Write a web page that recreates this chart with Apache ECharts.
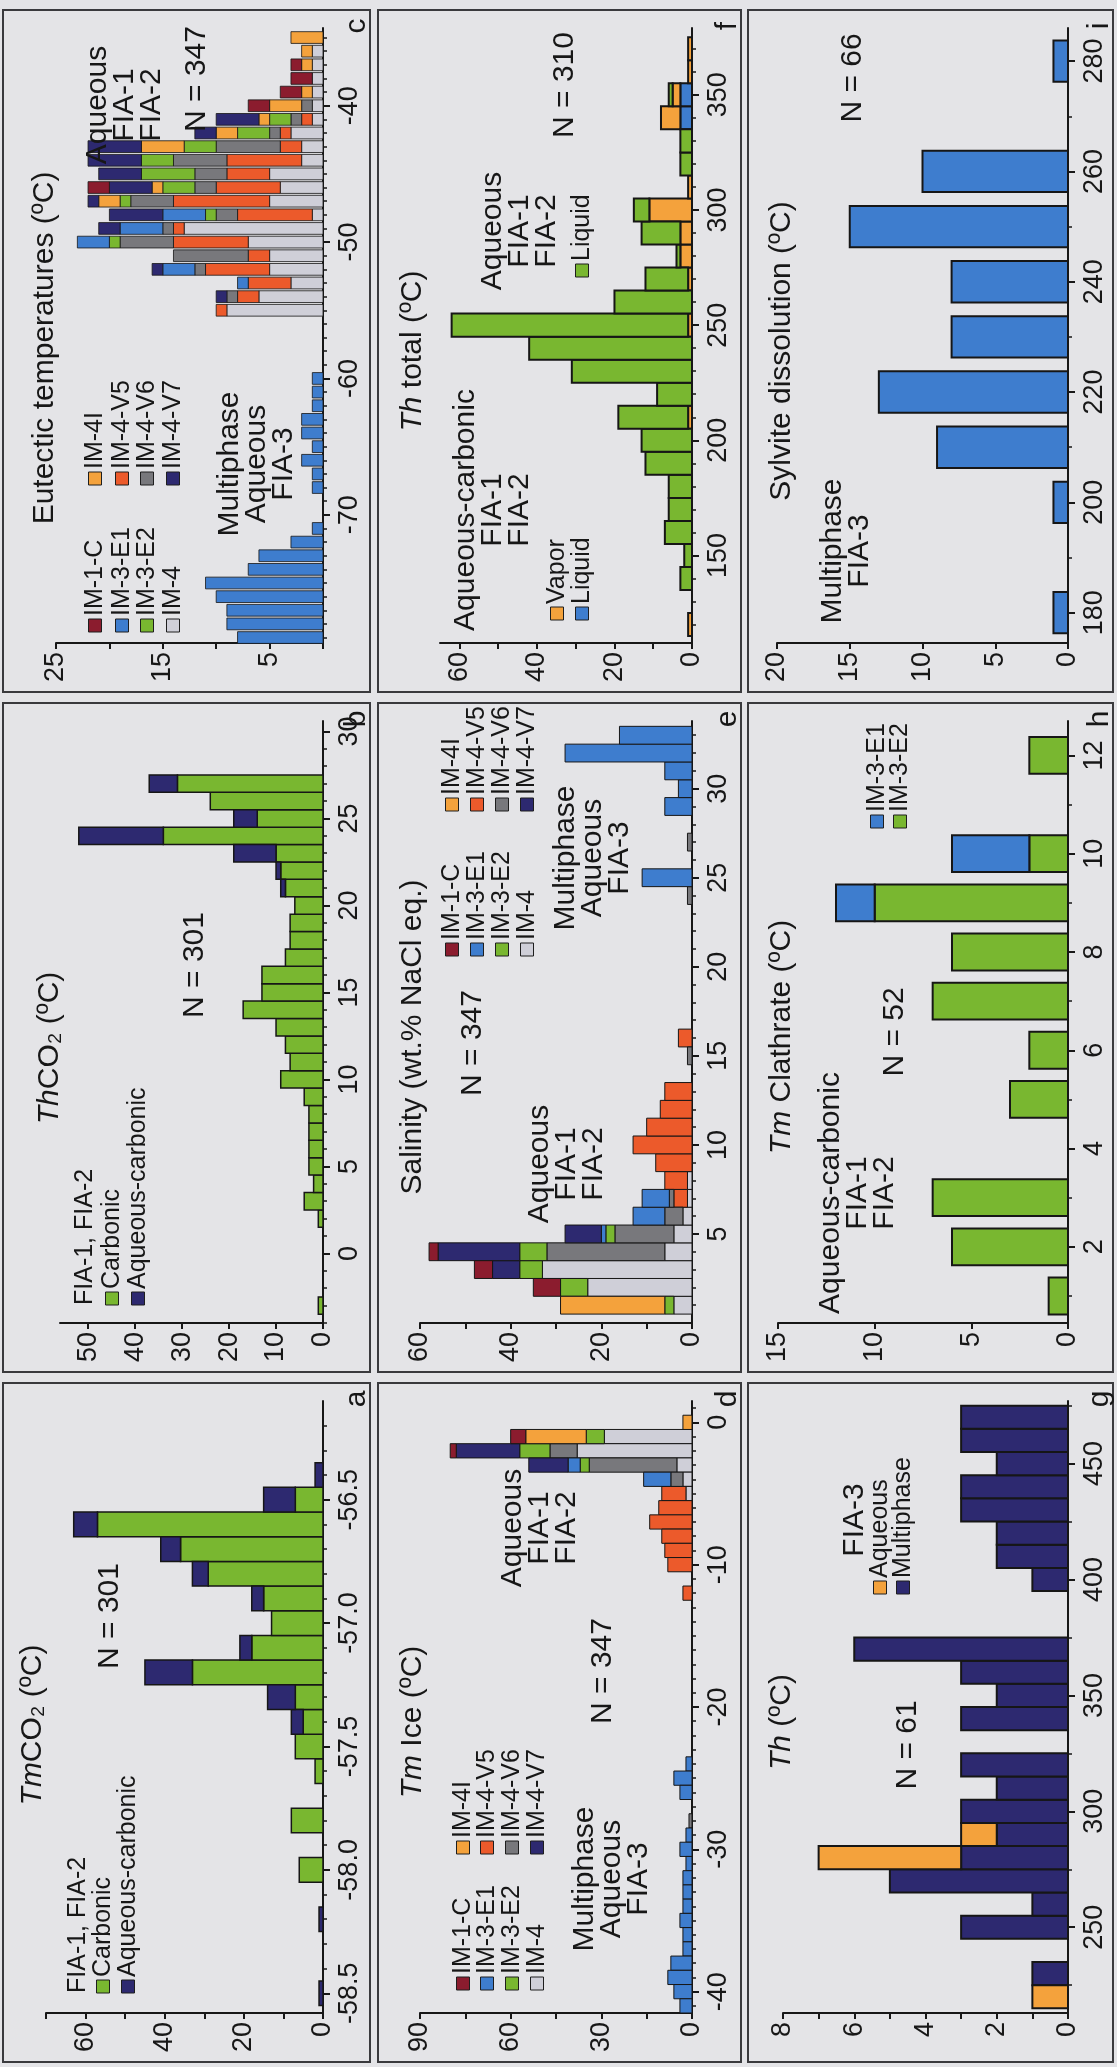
<!DOCTYPE html>
<html>
<head>
<meta charset="utf-8">
<title>Microthermometric data</title>
<script src="https://cdn.jsdelivr.net/npm/echarts@6.0.0/dist/echarts.min.js"></script>
<style>
  html, body { margin: 0; padding: 0; background: #e4e4e7; }
  #chart { width: 1117px; height: 2067px; }
</style>
</head>
<body>
<div id="chart"></div>
<script>
// ---- a: TmCO2 ----
var aBins = [-58.5, -58.2, -58.0, -57.8, -57.6, -57.5, -57.4, -57.3, -57.2, -57.1, -57.0, -56.9, -56.8, -56.7, -56.6, -56.5, -56.4];
var aCarbonic = [0, 0, 6, 8, 2, 7, 5, 7, 33, 18, 13, 15, 29, 36, 57, 7, 0];
var aAqueousCarbonic = [1, 1, 0, 0, 0, 0, 3, 7, 12, 3, 0, 3, 4, 5, 6, 8, 2];
var aCountLabels = [0, 20, 40, 60];
var aTempLabels = [-58.5, -58.0, -57.5, -57.0, -56.5];

// ---- b: ThCO2 ----
var bBins = [-3, 2, 3, 4, 5, 6, 7, 8, 9, 10, 11, 12, 13, 14, 15, 16, 17, 18, 19, 20, 21, 22, 23, 24, 25, 26, 27];
var bCarbonic = [1, 1, 4, 2, 3, 3, 3, 3, 4, 9, 7, 8, 10, 17, 13, 13, 8, 7, 7, 6, 8, 9, 10, 34, 14, 24, 31];
var bAqueousCarbonic = [0, 0, 0, 0, 0, 0, 0, 0, 0, 0, 0, 0, 0, 0, 0, 0, 0, 0, 0, 0, 1, 1, 9, 18, 5, 0, 6];
var bCountLabels = [0, 10, 20, 30, 40, 50];
var bTempLabels = [0, 5, 10, 15, 20, 25, 30];

// ---- c: eutectic temperatures ----
var cBins = [-79, -78, -77, -76, -75, -74, -73, -72, -71, -68, -67, -66, -65, -64, -63, -62, -61, -60,
  -55, -54, -53, -52, -51, -50, -49, -48, -47, -46, -45, -44, -43, -42, -41, -40, -39, -38, -37, -36, -35];
var cIM4   = [0,0,0,0,0,0,0,0,0, 0,0,0,0,0,0,0,0,0, 9,6,3,5,5,7,13,1,5,4,5,2,2,3,1,1,1,1,1,1,0];
var cIM4V5 = [0,0,0,0,0,0,0,0,0, 0,0,0,0,0,0,0,0,0, 1,2,4,6,2,7,1,7,9,6,4,7,2,1,1,0,0,0,0,0,0];
var cIM4V6 = [0,0,0,0,0,0,0,0,0, 0,0,0,0,0,0,0,0,0, 0,1,0,1,7,5,1,2,4,2,3,5,6,1,1,1,0,0,0,0,0];
var cIM3E2 = [0,0,0,0,0,0,0,0,0, 0,0,0,0,0,0,0,0,0, 0,0,0,0,0,1,0,1,1,3,5,3,3,3,2,0,0,0,0,0,0];
var cIM3E1 = [8,9,9,10,11,7,6,3,1, 1,1,2,1,2,2,1,1,1, 0,0,1,3,0,3,4,4,0,0,0,0,0,0,0,0,0,0,0,0,0];
var cIM4I  = [0,0,0,0,0,0,0,0,0, 0,0,0,0,0,0,0,0,0, 0,0,0,0,0,0,0,0,2,1,0,0,4,2,1,3,1,0,1,1,3];
var cIM4V7 = [0,0,0,0,0,0,0,0,0, 0,0,0,0,0,0,0,0,0, 0,1,0,1,0,0,2,5,1,4,4,5,5,2,4,0,0,0,0,0,0];
var cIM1C  = [0,0,0,0,0,0,0,0,0, 0,0,0,0,0,0,0,0,0, 0,0,0,0,0,0,0,0,0,2,0,0,0,0,0,2,2,2,1,0,0];
var cCountLabels = [5, 15, 25];
var cTempLabels = [-70, -60, -50, -40];

// ---- d: Tm ice ----
var dBins = [0, -1, -2, -3, -4, -5, -6, -7, -8, -9, -10, -12, -24, -25, -26, -28, -29, -30, -31, -32, -33, -34, -35, -36, -37, -38, -39, -40, -41];
var dIM4   = [0,29,38,5,3,2,0,0,0,0,0,0, 0,0,0,0,0,0,0,0,0,0,0,0,0,0,0,0,0];
var dIM4V5 = [0,0,0,0,0,8,11,14,10,9,8,3, 0,0,0,0,0,0,0,0,0,0,0,0,0,0,0,0,0];
var dIM4V6 = [0,0,9,29,4,0,0,0,0,0,0,0, 0,0,0,1,0,0,0,0,0,0,0,0,0,0,0,0,0];
var dIM3E2 = [0,6,10,3,0,0,0,0,0,0,0,0, 0,0,0,0,0,0,0,0,0,0,0,0,0,0,0,0,0];
var dIM3E1 = [0,0,0,4,9,0,0,0,0,0,0,0, 2,6,4,0,2,4,2,3,3,3,4,3,3,7,8,6,4];
var dIM4I  = [3,20,0,0,0,0,0,0,0,0,0,0, 0,0,0,0,0,0,0,0,0,0,0,0,0,0,0,0,0];
var dIM4V7 = [0,0,21,13,0,0,0,0,0,0,0,0, 0,0,0,0,0,0,0,0,0,0,0,0,0,0,0,0,0];
var dIM1C  = [0,5,2,0,0,0,0,0,0,0,0,0, 0,0,0,0,0,0,0,0,0,0,0,0,0,0,0,0,0];
var dCountLabels = [0, 30, 60, 90];
var dTempLabels = [-40, -30, -20, -10, 0];

// ---- e: salinity ----
var eBins = [1, 2, 3, 4, 5, 6, 7, 8, 9, 10, 11, 12, 13, 15, 16, 24, 25, 27, 29, 30, 31, 32, 33];
var eIM4   = [4,23,33,6,4,2,1,1,0,0,0,0,0,0,0,0,0,0,0,0,0,0,0];
var eIM4V5 = [0,0,0,0,0,0,3,5,8,13,10,7,6,0,3,0,0,0,0,0,0,0,0];
var eIM4V6 = [0,0,0,26,13,4,1,0,0,0,0,0,0,1,0,1,0,1,0,0,0,0,0];
var eIM3E2 = [2,6,5,6,2,0,0,0,0,0,0,0,0,0,0,0,0,0,0,0,0,0,0];
var eIM3E1 = [0,0,0,0,1,7,6,0,0,0,0,0,0,0,0,0,11,0,6,3,6,28,16];
var eIM4I  = [23,0,0,0,0,0,0,0,0,0,0,0,0,0,0,0,0,0,0,0,0,0,0];
var eIM4V7 = [0,0,6,18,8,0,0,0,0,0,0,0,0,0,0,0,0,0,0,0,0,0,0];
var eIM1C  = [0,6,4,2,0,0,0,0,0,0,0,0,0,0,0,0,0,0,0,0,0,0,0];
var eCountLabels = [0, 20, 40, 60];
var eTempLabels = [5, 10, 15, 20, 25, 30];

// ---- f: Th total ----
var fBins = [120, 140, 150, 160, 170, 180, 190, 200, 210, 220, 230, 240, 250, 260, 270, 280, 290, 300, 310, 320, 330, 340, 350, 360, 370];
var fLiquidAqCarb = [0,0,0,0,0,0,0,0,0,0,0,0,0,0,0,0,0,0,0,0,0,3,3,0,0];
var fVapor        = [1,0,0,0,0,0,0,0,1,0,0,0,1,0,1,3,3,11,1,0,0,5,2,1,1];
var fLiquidAq     = [0,3,2,7,6,6,12,13,18,9,31,42,61,20,11,1,10,4,0,3,3,0,1,0,0];
var fCountLabels = [0, 20, 40, 60];
var fTempLabels = [150, 200, 250, 300, 350];

// ---- g: Th FIA-3 ----
var gBins = [220, 230, 250, 260, 270, 280, 290, 300, 310, 320, 340, 350, 360, 370, 400, 410, 420, 430, 440, 450, 460, 470];
var gMultiphase = [0,1,3,1,5,3,2,3,2,3,3,2,3,6,1,2,2,3,3,2,3,3];
var gAqueous    = [1,0,0,0,0,4,1,0,0,0,0,0,0,0,0,0,0,0,0,0,0,0];
var gCountLabels = [0, 2, 4, 6, 8];
var gTempLabels = [250, 300, 350, 400, 450];

// ---- h: Tm clathrate ----
var hBins = [1, 2, 3, 5, 6, 7, 8, 9, 10, 12];
var hIM3E2 = [1, 6, 7, 3, 2, 7, 6, 10, 2, 2];
var hIM3E1 = [0, 0, 0, 0, 0, 0, 0, 2, 4, 0];
var hCountLabels = [0, 5, 10, 15];
var hTempLabels = [2, 4, 6, 8, 10, 12];

// ---- i: sylvite dissolution ----
var iBins = [180, 200, 210, 220, 230, 240, 250, 260, 280];
var iMultiphase = [1, 1, 9, 13, 8, 8, 15, 10, 1];
var iCountLabels = [0, 5, 10, 15, 20];
var iTempLabels = [180, 200, 220, 240, 260, 280];

var FONT = '"Liberation Sans", Arial, Helvetica, sans-serif';
var INK = '#171717';
var COL = {
    lgray: '#cfcfd8', red: '#ec5a2b', gray: '#78787c', green: '#79b730',
    blue: '#3e7dce', orange: '#f4a23c', navy: '#2d2970', dred: '#8b1c2e'
};

function range(a, b, s) {
    var r = [];
    for (var v = a; v <= b + s / 1000; v += s) r.push(Math.round(v * 1000) / 1000);
    return r;
}

var grids = [], xAxes = [], yAxes = [], series = [], graphics = [];

function barRenderer(width, lw) {
    return function (params, api) {
        var c = api.value(0), lo = api.value(1), hi = api.value(2);
        if (hi <= lo) return null;
        var p0 = api.coord([lo, c - width / 2]);
        var p1 = api.coord([hi, c + width / 2]);
        return {
            type: 'rect',
            shape: {
                x: Math.min(p0[0], p1[0]), y: Math.min(p0[1], p1[1]),
                width: Math.abs(p1[0] - p0[0]), height: Math.abs(p1[1] - p0[1])
            },
            style: { fill: api.visual('color'), stroke: '#161616', lineWidth: lw }
        };
    };
}

function addPanel(p) {
    var gi = grids.length;
    var g = p.grid;
    grids.push({ left: g[0], top: g[1], width: g[2] - g[0], height: g[3] - g[1], containLabel: false, outerBoundsMode: 'none' });
    xAxes.push({
        type: 'value', gridIndex: gi, position: 'bottom', inverse: true, min: 0, max: p.countMax,
        axisLine: { show: true, onZero: false, lineStyle: { color: INK, width: 2 } },
        axisTick: { show: true, length: 6, customValues: p.countTicks, lineStyle: { color: INK, width: 2 } },
        axisLabel: { show: true, rotate: 90, customValues: p.countLabels, margin: 9, fontSize: 27, fontFamily: FONT, color: INK },
        splitLine: { show: false }
    });
    yAxes.push({
        type: 'value', gridIndex: gi, position: 'right', min: p.tempMin, max: p.tempMax,
        axisLine: { show: true, onZero: false, lineStyle: { color: INK, width: 2 } },
        axisTick: { show: true, length: 7, customValues: p.tempLabels, lineStyle: { color: INK, width: 2 } },
        axisLabel: {
            show: true, rotate: 90, customValues: p.tempLabels, margin: 13, fontSize: 27, fontFamily: FONT, color: INK,
            formatter: function (v) { return Number(v).toFixed(p.digits || 0); }
        },
        splitLine: { show: false }
    }, {
        type: 'value', gridIndex: gi, position: 'right', min: p.tempMin, max: p.tempMax,
        axisLine: { show: false, onZero: false },
        axisTick: { show: true, length: 4, customValues: p.tempMinor, lineStyle: { color: INK, width: 1.5 } },
        axisLabel: { show: false },
        splitLine: { show: false }
    });

    var base = p.bins.map(function () { return 0; });
    p.layers.forEach(function (L) {
        var data = [];
        p.bins.forEach(function (b, i) {
            var v = L[1][i];
            if (v > 0) data.push([b, base[i], base[i] + v]);
            base[i] += v;
        });
        series.push({
            type: 'custom', name: L[0], coordinateSystem: 'cartesian2d',
            xAxisIndex: gi, yAxisIndex: gi * 2, silent: true, z: 3,
            itemStyle: { color: L[2] }, encode: { x: [1, 2], y: 0 },
            renderItem: barRenderer(p.width, p.lw), data: data
        });
    });

    var f = p.frame;
    graphics.push({
        type: 'rect', silent: true, z: 1,
        shape: { x: f[0], y: f[1], width: f[2] - f[0], height: f[3] - f[1] },
        style: { fill: 'none', stroke: '#3a3a3d', lineWidth: 2 }
    });
    graphics.push(vtext(f[2] - 13, f[1] + 16, p.letter, 30));
}

function vtext(x, y, text, size) {
    var st = {
        text: text, fontSize: size, fontFamily: FONT, fill: INK,
        textAlign: 'center', textVerticalAlign: 'middle', align: 'center', verticalAlign: 'middle',
        lineHeight: Math.round(size * 0.9)
    };
    if (text.indexOf('{') >= 0) {
        st.rich = { it: { fontStyle: 'italic', fontSize: size, fontFamily: FONT, fill: INK } };
    }
    return { type: 'text', x: x, y: y, rotation: Math.PI / 2, silent: true, z: 100, style: st };
}

// legend entry: square at the bottom, label reading upwards
function legendItem(x, yBottom, color, label) {
    var s = 13, tx = 0, kids = [];
    if (color) {
        kids.push({ type: 'rect', z: 100, shape: { x: 0, y: -s / 2, width: s, height: s }, style: { fill: color, stroke: '#1e1e1e', lineWidth: 1 } });
        tx = s + 3;
    }
    kids.push({
        type: 'text', z: 100, x: tx, y: 0,
        style: { text: label, fontSize: 25, fontFamily: FONT, fill: INK, textAlign: 'left', textVerticalAlign: 'middle', align: 'left', verticalAlign: 'middle' }
    });
    return { type: 'group', x: x, y: yBottom, rotation: Math.PI / 2, silent: true, z: 100, children: kids };
}

function eightLayers(lg, v5, v6, e2, e1, i4, v7, c1) {
    return [['IM-4', lg, COL.lgray], ['IM-4-V5', v5, COL.red], ['IM-4-V6', v6, COL.gray], ['IM-3-E2', e2, COL.green],
        ['IM-3-E1', e1, COL.blue], ['IM-4I', i4, COL.orange], ['IM-4-V7', v7, COL.navy], ['IM-1-C', c1, COL.dred]];
}

function eightLegend(xs, yCol1, yCol2) {
    graphics.push(legendItem(xs[0], yCol1, COL.dred, 'IM-1-C'));
    graphics.push(legendItem(xs[1], yCol1, COL.blue, 'IM-3-E1'));
    graphics.push(legendItem(xs[2], yCol1, COL.green, 'IM-3-E2'));
    graphics.push(legendItem(xs[3], yCol1, COL.lgray, 'IM-4'));
    graphics.push(legendItem(xs[0], yCol2, COL.orange, 'IM-4I'));
    graphics.push(legendItem(xs[1], yCol2, COL.red, 'IM-4-V5'));
    graphics.push(legendItem(xs[2], yCol2, COL.gray, 'IM-4-V6'));
    graphics.push(legendItem(xs[3], yCol2, COL.navy, 'IM-4-V7'));
}

// a
addPanel({
    letter: 'a', frame: [3, 1383, 370, 2062], grid: [46, 1401, 323, 2013],
    countMax: 70, countTicks: range(0, 70, 10), countLabels: aCountLabels,
    tempMin: -58.58, tempMax: -56.1, tempLabels: aTempLabels, tempMinor: range(-58.5, -56.2, 0.1), digits: 1,
    bins: aBins, width: 0.1, lw: 1.5,
    layers: [['Carbonic', aCarbonic, COL.green], ['Aqueous-carbonic', aAqueousCarbonic, COL.navy]]
});
graphics.push(vtext(33, 1725, '{it|Tm}CO₂ (ºC)', 30));
graphics.push(vtext(110, 1616, 'N = 301', 30));
graphics.push(legendItem(78, 1993, null, 'FIA-1, FIA-2'));
graphics.push(legendItem(103, 1993, COL.green, 'Carbonic'));
graphics.push(legendItem(128, 1993, COL.navy, 'Aqueous-carbonic'));

// b
addPanel({
    letter: 'b', frame: [3, 703, 370, 1372], grid: [60, 721, 323, 1323],
    countMax: 56, countTicks: range(0, 50, 10), countLabels: bCountLabels,
    tempMin: -4, tempMax: 30.6, tempLabels: bTempLabels, tempMinor: range(-4, 30, 1),
    bins: bBins, width: 1, lw: 1.5,
    layers: [['Carbonic', bCarbonic, COL.green], ['Aqueous-carbonic', bAqueousCarbonic, COL.navy]]
});
graphics.push(vtext(50, 1048, '{it|Th}CO₂ (ºC)', 30));
graphics.push(vtext(195, 965, 'N = 301', 30));
graphics.push(legendItem(85, 1305, null, 'FIA-1, FIA-2'));
graphics.push(legendItem(112, 1305, COL.green, 'Carbonic'));
graphics.push(legendItem(138, 1305, COL.navy, 'Aqueous-carbonic'));

// c
addPanel({
    letter: 'c', frame: [3, 10, 370, 692], grid: [56, 28, 323, 643],
    countMax: 25, countTicks: range(0, 25, 5), countLabels: cCountLabels,
    tempMin: -79.4, tempMax: -34.3, tempLabels: cTempLabels, tempMinor: range(-79, -35, 1),
    bins: cBins, width: 0.86, lw: 0.8,
    layers: eightLayers(cIM4, cIM4V5, cIM4V6, cIM3E2, cIM3E1, cIM4I, cIM4V7, cIM1C)
});
graphics.push(vtext(45, 348, 'Eutectic temperatures (ºC)', 30));
graphics.push(vtext(197, 79, 'N = 347', 30));
graphics.push(vtext(125, 105, 'Aqueous\nFIA-1\nFIA-2', 30));
graphics.push(vtext(257, 464, 'Multiphase\nAqueous\nFIA-3', 30));
eightLegend([95, 122, 147, 173], 632, 485);

// d
addPanel({
    letter: 'd', frame: [378, 1383, 741, 2062], grid: [420, 1401, 692, 2013],
    countMax: 90, countTicks: range(0, 90, 15), countLabels: dCountLabels,
    tempMin: -41.5, tempMax: 1.5, tempLabels: dTempLabels, tempMinor: range(-41, 1, 1),
    bins: dBins, width: 1, lw: 1,
    layers: eightLayers(dIM4, dIM4V5, dIM4V6, dIM3E2, dIM3E1, dIM4I, dIM4V7, dIM1C)
});
graphics.push(vtext(413, 1722, '{it|Tm} Ice (ºC)', 30));
graphics.push(vtext(540, 1528, 'Aqueous\nFIA-1\nFIA-2', 30));
graphics.push(vtext(603, 1671, 'N = 347', 30));
graphics.push(vtext(612, 1879, 'Multiphase\nAqueous\nFIA-3', 30));
eightLegend([463, 487, 512, 537], 1990, 1854);

// e
addPanel({
    letter: 'e', frame: [378, 703, 741, 1372], grid: [420, 721, 692, 1323],
    countMax: 60, countTicks: range(0, 60, 10), countLabels: eCountLabels,
    tempMin: 0, tempMax: 33.8, tempLabels: eTempLabels, tempMinor: range(1, 33, 1),
    bins: eBins, width: 1, lw: 1,
    layers: eightLayers(eIM4, eIM4V5, eIM4V6, eIM3E2, eIM3E1, eIM4I, eIM4V7, eIM1C)
});
graphics.push(vtext(413, 1037, 'Salinity (wt.% NaCl eq.)', 30));
graphics.push(vtext(473, 1043, 'N = 347', 30));
graphics.push(vtext(567, 1164, 'Aqueous\nFIA-1\nFIA-2', 30));
graphics.push(vtext(593, 858, 'Multiphase\nAqueous\nFIA-3', 30));
eightLegend([452, 477, 502, 527], 956, 811);

// f
addPanel({
    letter: 'f', frame: [378, 10, 741, 692], grid: [440, 28, 692, 643],
    countMax: 65, countTicks: range(0, 60, 10), countLabels: fCountLabels,
    tempMin: 112, tempMax: 379, tempLabels: fTempLabels, tempMinor: range(120, 370, 10),
    bins: fBins, width: 10, lw: 2,
    layers: [['Liquid (aqueous-carbonic)', fLiquidAqCarb, COL.blue], ['Vapor', fVapor, COL.orange], ['Liquid (aqueous)', fLiquidAq, COL.green]]
});
graphics.push(vtext(413, 351, '{it|Th} total (ºC)', 30));
graphics.push(vtext(565, 85, 'N = 310', 30));
graphics.push(vtext(520, 231, 'Aqueous\nFIA-1\nFIA-2', 30));
graphics.push(vtext(493, 510, 'Aqueous-carbonic\nFIA-1\nFIA-2', 30));
graphics.push(legendItem(557, 620, COL.orange, 'Vapor'));
graphics.push(legendItem(582, 620, COL.blue, 'Liquid'));
graphics.push(legendItem(582, 277, COL.green, 'Liquid'));

// g
addPanel({
    letter: 'g', frame: [748, 1383, 1113, 2062], grid: [783, 1401, 1068, 2013],
    countMax: 8, countTicks: range(0, 8, 1), countLabels: gCountLabels,
    tempMin: 213, tempMax: 477, tempLabels: gTempLabels, tempMinor: range(225, 475, 50),
    bins: gBins, width: 10, lw: 2,
    layers: [['Multiphase', gMultiphase, COL.navy], ['Aqueous', gAqueous, COL.orange]]
});
graphics.push(vtext(782, 1722, '{it|Th} (ºC)', 30));
graphics.push(vtext(855, 1520, 'FIA-3', 30));
graphics.push(vtext(908, 1745, 'N = 61', 30));
graphics.push(legendItem(880, 1594, COL.orange, 'Aqueous'));
graphics.push(legendItem(903, 1594, COL.navy, 'Multiphase'));

// h
addPanel({
    letter: 'h', frame: [748, 703, 1113, 1372], grid: [778, 721, 1068, 1323],
    countMax: 15, countTicks: range(0, 15, 5), countLabels: hCountLabels,
    tempMin: 0.45, tempMax: 12.7, tempLabels: hTempLabels, tempMinor: range(1, 11, 2),
    bins: hBins, width: 0.75, lw: 2,
    layers: [['IM-3-E2', hIM3E2, COL.green], ['IM-3-E1', hIM3E1, COL.blue]]
});
graphics.push(vtext(782, 1037, '{it|Tm} Clathrate (ºC)', 30));
graphics.push(vtext(895, 1032, 'N = 52', 30));
graphics.push(vtext(858, 1193, 'Aqueous-carbonic\nFIA-1\nFIA-2', 30));
graphics.push(legendItem(877, 828, COL.blue, 'IM-3-E1'));
graphics.push(legendItem(900, 828, COL.green, 'IM-3-E2'));

// i
addPanel({
    letter: 'i', frame: [748, 10, 1113, 692], grid: [777, 28, 1068, 643],
    countMax: 20, countTicks: range(0, 20, 5), countLabels: iCountLabels,
    tempMin: 174.5, tempMax: 286, tempLabels: iTempLabels, tempMinor: range(190, 270, 20),
    bins: iBins, width: 7.5, lw: 2,
    layers: [['Multiphase', iMultiphase, COL.blue]]
});
graphics.push(vtext(782, 351, 'Sylvite dissolution (ºC)', 30));
graphics.push(vtext(853, 78, 'N = 66', 30));
graphics.push(vtext(846, 551, 'Multiphase\nFIA-3', 30));

var chart = echarts.init(document.getElementById('chart'));
chart.setOption({
    backgroundColor: '#e4e4e7',
    animation: false,
    grid: grids,
    xAxis: xAxes,
    yAxis: yAxes,
    series: series,
    graphic: { elements: graphics }
});
window.addEventListener('resize', function () {
    chart.resize();
});
</script>
</body>
</html>
